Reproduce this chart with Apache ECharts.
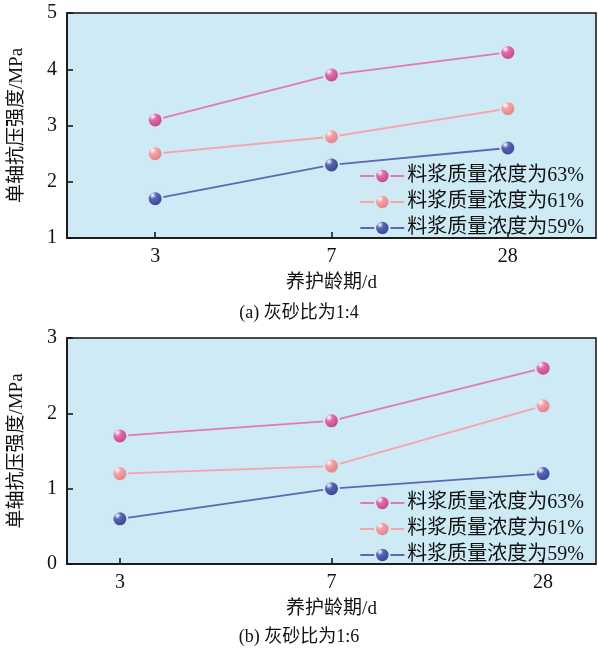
<!DOCTYPE html>
<html>
<head>
<meta charset="utf-8">
<title>单轴抗压强度</title>
<script src="https://cdn.jsdelivr.net/npm/echarts@6/dist/echarts.min.js"></script>
</head>
<body style="margin:0;background:#fff;">
<div id="main" style="width:598px;height:650px;"></div>
<script>
// curing ages (d)
var ages = ['3', '7', '28'];
var seriesNames = ['料浆质量浓度为63%', '料浆质量浓度为61%', '料浆质量浓度为59%'];
// (a) 灰砂比为1:4
var strengthA63 = [3.1, 3.9, 4.3];
var strengthA61 = [2.5, 2.8, 3.3];
var strengthA59 = [1.7, 2.3, 2.6];
// (b) 灰砂比为1:6
var strengthB63 = [1.7, 1.9, 2.6];
var strengthB61 = [1.2, 1.3, 2.1];
var strengthB59 = [0.6, 1.0, 1.2];

var font = "'Liberation Serif', 'Noto Sans CJK SC', serif";
var lineColors = ['#E577B6', '#F6A3AA', '#5A68B6'];
var ballBase = ['#E06AAE', '#F5A0A6', '#5563B2'];
var ballDark = ['#B8417F', '#D77C84', '#33408A'];
var plotBg = '#CDEAF5';

function ball(i) {
  return new echarts.graphic.RadialGradient(0.35, 0.3, 0.75, [
    { offset: 0, color: '#ffffff' },
    { offset: 0.3, color: ballBase[i] },
    { offset: 1, color: ballDark[i] }
  ]);
}

function pts(arr) {
  return arr.map(function (v, i) { return [i, v]; });
}

function mkSeries(i, data, idx) {
  return {
    name: seriesNames[i],
    type: 'line',
    xAxisIndex: idx,
    yAxisIndex: idx,
    data: pts(data),
    symbol: 'circle',
    symbolSize: 15,
    lineStyle: { color: lineColors[i], width: 1.8 },
    itemStyle: { color: ball(i), borderColor: plotBg, borderWidth: 2 },
    z: 3 - i
  };
}

function xAx(idx, min, max) {
  return {
    type: 'value', gridIndex: idx, min: min, max: max,
    name: '养护龄期/d', nameLocation: 'middle', nameGap: 36,
    nameTextStyle: { fontFamily: font, fontSize: 19, color: '#111' },
    axisLine: { onZero: false, lineStyle: { color: '#111', width: 1.5 } },
    axisTick: { inside: true, length: 6, customValues: [0, 1, 2], lineStyle: { color: '#111', width: 1.5 } },
    axisLabel: {
      customValues: [0, 1, 2], margin: 9,
      fontFamily: font, fontSize: 20, color: '#111',
      formatter: function (v) { return ages[Math.round(v)]; }
    },
    splitLine: { show: false }
  };
}

function yAx(idx, min, max) {
  return {
    type: 'value', gridIndex: idx, min: min, max: max, interval: 1,
    name: '单轴抗压强度/MPa', nameLocation: 'middle', nameGap: 40, nameRotate: 90,
    nameTextStyle: { fontFamily: font, fontSize: 19, color: '#111' },
    axisLine: { show: true, onZero: false, lineStyle: { color: '#111', width: 1.5 } },
    axisTick: { show: true, inside: true, length: 6, lineStyle: { color: '#111', width: 1.5 } },
    axisLabel: { fontFamily: font, fontSize: 20, color: '#111', margin: 10 },
    splitLine: { show: false }
  };
}

function legend(top) {
  return {
    data: seriesNames, orient: 'vertical', right: 9, top: top,
    itemWidth: 44, itemHeight: 18, itemGap: 6,
    textStyle: { fontFamily: font, fontSize: 20, color: '#111', padding: [0, 0, 0, -2] },
    itemStyle: { borderColor: plotBg, borderWidth: 2 }
  };
}

var chart = echarts.init(document.getElementById('main'));
chart.setOption({
  animation: false,
  backgroundColor: '#fff',
  title: [
    { text: '(a) 灰砂比为1:4', left: 'center', top: 299, textStyle: { fontFamily: font, fontSize: 18, fontWeight: 'normal', color: '#111' } },
    { text: '(b) 灰砂比为1:6', left: 'center', top: 623, textStyle: { fontFamily: font, fontSize: 18, fontWeight: 'normal', color: '#111' } }
  ],
  grid: [
    { left: 62, right: 2, top: 13, height: 225, show: true, backgroundColor: plotBg, borderColor: '#111', borderWidth: 1.5 },
    { left: 62, right: 2, top: 338, height: 226, show: true, backgroundColor: plotBg, borderColor: '#111', borderWidth: 1.5 }
  ],
  xAxis: [xAx(0, -0.5, 2.5), xAx(1, -0.25, 2.25)],
  yAxis: [yAx(0, 1, 5), yAx(1, 0, 3)],
  legend: [legend(161), legend(488)],
  series: [
    mkSeries(0, strengthA63, 0), mkSeries(1, strengthA61, 0), mkSeries(2, strengthA59, 0),
    mkSeries(0, strengthB63, 1), mkSeries(1, strengthB61, 1), mkSeries(2, strengthB59, 1)
  ]
});
</script>
</body>
</html>
